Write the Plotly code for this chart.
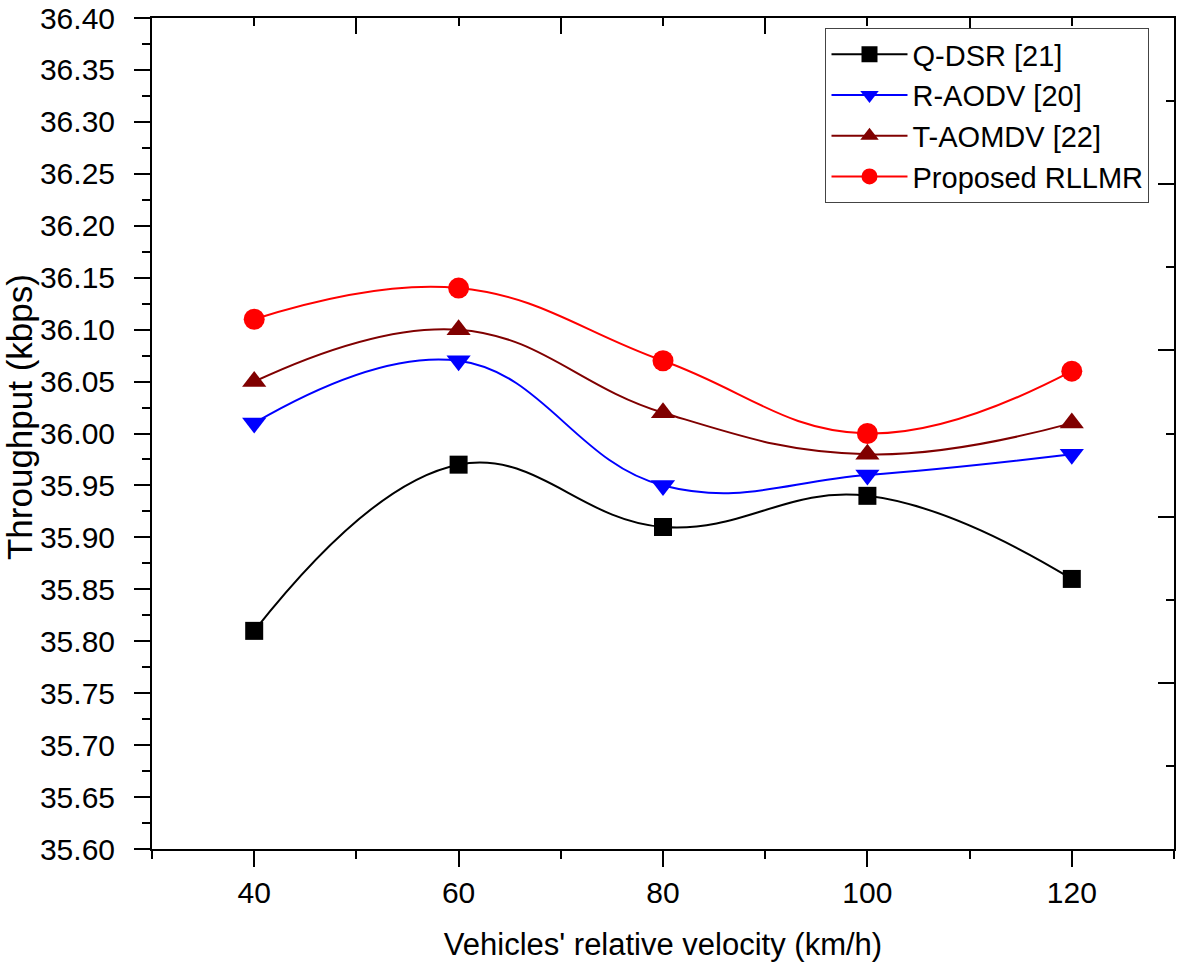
import plotly.graph_objects as go

velocity = [40, 60, 80, 100, 120]
q_dsr = [35.81, 35.97, 35.91, 35.94, 35.86]
r_aodv = [36.01, 36.07, 35.95, 35.96, 35.98]
t_aomdv = [36.05, 36.10, 36.02, 35.98, 36.01]
rllmr = [36.11, 36.14, 36.07, 36.00, 36.06]
y_ticks = [35.60, 35.65, 35.70, 35.75, 35.80, 35.85, 35.90, 35.95,
           36.00, 36.05, 36.10, 36.15, 36.20, 36.25, 36.30, 36.35, 36.40]
x_ticks = [40, 60, 80, 100, 120]

series = [
    ("Q-DSR [21]", q_dsr, "#000000", "square", 18),
    ("R-AODV [20]", r_aodv, "#0000FF", "triangle-down", 21),
    ("T-AOMDV [22]", t_aomdv, "#800000", "triangle-up", 21),
    ("Proposed RLLMR", rllmr, "#FF0000", "circle", 21),
]

FONT = "Liberation Sans, Arial, sans-serif"

fig = go.Figure()
for name, vals, color, sym, size in series:
    fig.add_trace(go.Scatter(
        x=velocity, y=vals, name=name, mode="lines+markers",
        line=dict(color=color, width=2, shape="spline", smoothing=1.2),
        marker=dict(symbol=sym, size=size, color=color),
    ))

# empty trace so the mirror (top/right) axes are drawn
fig.add_trace(go.Scatter(x=[], y=[], xaxis="x2", yaxis="y2", showlegend=False, hoverinfo="skip"))

fig.update_layout(
    width=1179, height=962,
    margin=dict(l=152, r=5, t=18, b=113),
    paper_bgcolor="white", plot_bgcolor="white",
    font=dict(family=FONT, size=30, color="black"),
    showlegend=True,
    legend=dict(
        x=0.659, y=0.988, xanchor="left", yanchor="top",
        bgcolor="white", bordercolor="#444", borderwidth=1,
        font=dict(family=FONT, size=29, color="black"),
        itemwidth=76, tracegroupgap=0,
    ),
    xaxis=dict(
        range=[30, 130], tickvals=x_ticks, ticktext=[str(v) for v in x_ticks],
        ticks="outside", ticklen=16, tickwidth=2, tickcolor="black",
        minor=dict(tick0=30, dtick=10, ticks="outside", ticklen=8, tickwidth=2, tickcolor="black"),
        showline=True, linewidth=2, linecolor="black",
        showgrid=False, zeroline=False, automargin=False,
        title=dict(text="Vehicles' relative velocity (km/h)", font=dict(size=31), standoff=30),
        tickfont=dict(size=30), ticklabeloverflow="allow",
    ),
    yaxis=dict(
        range=[35.60, 36.40], tickvals=y_ticks, ticktext=[f"{v:.2f}" for v in y_ticks],
        ticks="outside", ticklen=16, tickwidth=2, tickcolor="black",
        minor=dict(tick0=35.60, dtick=0.025, ticks="outside", ticklen=8, tickwidth=2, tickcolor="black"),
        showline=True, linewidth=2, linecolor="black",
        showgrid=False, zeroline=False, automargin=False,
        ticklabelstandoff=13, ticklabeloverflow="allow",
        tickfont=dict(size=30),
    ),
    xaxis2=dict(
        overlaying="x", side="top", anchor="y2",
        range=[30, 130], tick0=30, dtick=20,
        ticks="inside", ticklen=16, tickwidth=2, tickcolor="black",
        minor=dict(tick0=40, dtick=10, ticks="inside", ticklen=8, tickwidth=2, tickcolor="black"),
        showticklabels=False, showline=True, linewidth=2, linecolor="black",
        showgrid=False, zeroline=False, automargin=False,
    ),
    yaxis2=dict(
        overlaying="y", side="right", anchor="x2",
        range=[35.60, 36.40], tick0=35.76, dtick=0.16,
        ticks="inside", ticklen=16, tickwidth=2, tickcolor="black",
        minor=dict(tick0=35.68, dtick=0.08, ticks="inside", ticklen=8, tickwidth=2, tickcolor="black"),
        showticklabels=False, showline=True, linewidth=2, linecolor="black",
        showgrid=False, zeroline=False, automargin=False,
    ),
    annotations=[dict(
        text="Throughput (kbps)", textangle=-90, showarrow=False,
        xref="paper", yref="paper", x=-0.129, y=0.52,
        xanchor="center", yanchor="middle",
        font=dict(family=FONT, size=35, color="black"),
    )],
)

# remove the browser's default 8px body margin so the figure fills the window exactly
fig.write_html(
    "out.html",
    config={"displayModeBar": False},
    post_script="document.body.style.margin='0';document.body.style.overflow='hidden';",
)
